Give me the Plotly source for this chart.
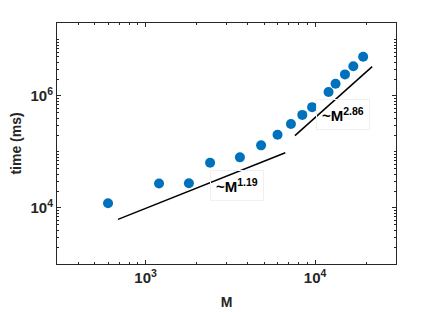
import plotly.graph_objects as go

# Data
M = [600, 1200, 1800, 2400, 3600, 4800, 6000, 7200, 8400, 9600,
     12000, 13200, 15000, 16800, 19200]
time_ms = [12100, 27300, 27700, 64000, 80000, 131000, 203000, 316000,
           458000, 630000, 1.17e6, 1.65e6, 2.42e6, 3.37e6, 5.0e6]

fit1_M = [687, 6670]
fit1_t = [6270, 96800]
fit2_M = [7600, 21700]
fit2_t = [195000, 3.33e6]

fit_labels = ["~M<sup>1.19</sup>", "~M<sup>2.86</sup>"]

x_major = [1e3, 1e4]
x_major_text = ["10<sup>3</sup>", "10<sup>4</sup>"]
y_major = [1e4, 1e6]
y_major_text = ["10<sup>4</sup>", "10<sup>6</sup>"]

x_minor = [n * 10**k for k in (2, 3, 4) for n in range(1, 10)
           if 300 <= n * 10**k <= 30000 and n * 10**k not in x_major]
y_minor = [n * 10**k for k in (3, 4, 5, 6, 7) for n in range(1, 10)
           if 1e3 <= n * 10**k <= 2e7 and n * 10**k not in y_major]

blue = "#0072BD"
axcol = "#262626"
font = "Liberation Sans"

fig = go.Figure()
fig.add_trace(go.Scatter(x=fit1_M, y=fit1_t, mode="lines",
                         line=dict(color="black", width=1.5), showlegend=False))
fig.add_trace(go.Scatter(x=fit2_M, y=fit2_t, mode="lines",
                         line=dict(color="black", width=1.5), showlegend=False))
fig.add_trace(go.Scatter(x=M, y=time_ms, mode="markers",
                         marker=dict(color=blue, size=10), showlegend=False))

axis_common = dict(
    type="log", showline=True, linecolor=axcol, linewidth=1, mirror="allticks",
    ticks="inside", ticklen=4, tickcolor=axcol, tickwidth=1,
    showgrid=False, zeroline=False, automargin=False,
    tickfont=dict(family=font, size=15, color=axcol, weight="bold"),
)

fig.update_xaxes(
    **axis_common,
    range=[2.4771, 4.4771],
    tickmode="array", tickvals=x_major, ticktext=x_major_text,
    minor=dict(tickvals=x_minor, ticks="inside", ticklen=2, tickcolor=axcol, showgrid=False),
    title=dict(text="M", font=dict(family=font, size=14, color=axcol, weight="bold"), standoff=12),
)
fig.update_yaxes(
    **axis_common,
    range=[3.0, 7.301],
    tickmode="array", tickvals=y_major, ticktext=y_major_text,
    minor=dict(tickvals=y_minor, ticks="inside", ticklen=2, tickcolor=axcol, showgrid=False),
    title=dict(text="time (ms)", font=dict(family=font, size=14, color=axcol, weight="bold"), standoff=8),
)

label_pos = [(0.5295, 0.326), (0.8437, 0.622)]
for txt, (px, py) in zip(fit_labels, label_pos):
    fig.add_annotation(x=px, y=py, xref="paper", yref="paper", text=txt,
                       xanchor="center", yanchor="middle",
                       showarrow=False, bgcolor="rgba(0,0,0,0)", bordercolor="#f0f0f0",
                       borderwidth=1, borderpad=5,
                       font=dict(family=font, size=15, color="black", weight="bold"))

# page body has an 8px default margin, so shift the figure accordingly
fig.update_layout(
    width=429, height=304,
    margin=dict(l=49, r=41, t=15, b=48),
    paper_bgcolor="white", plot_bgcolor="white",
)

fig.write_html("out.html")
